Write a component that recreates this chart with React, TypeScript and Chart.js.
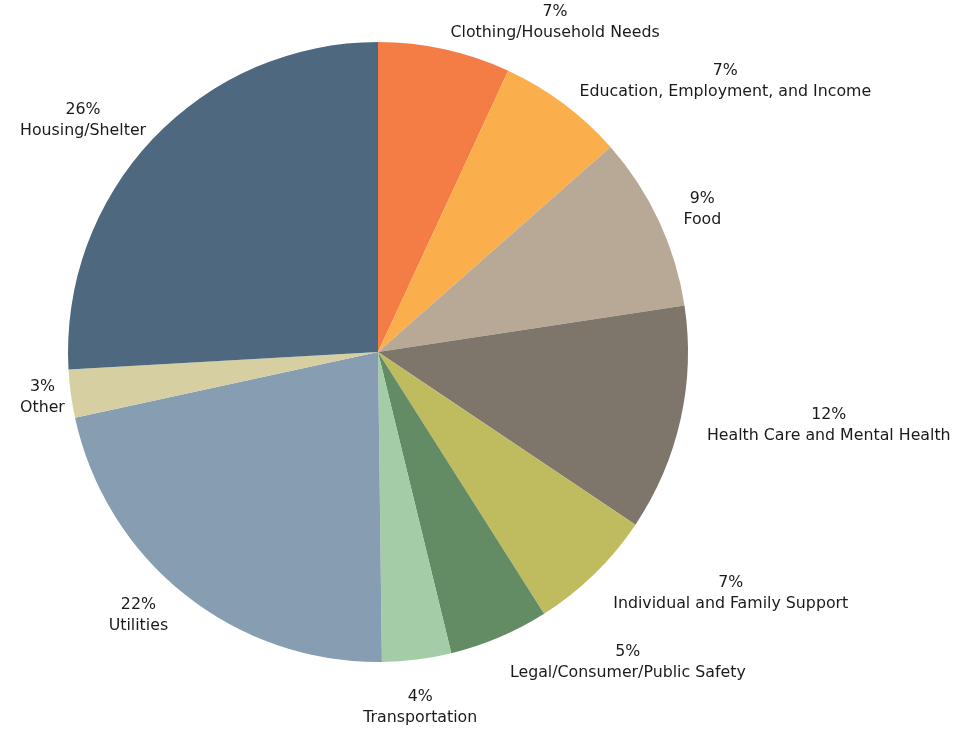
import React, { useEffect, useRef } from "react";
import { Chart, registerables } from "chart.js";

Chart.register(...registerables);

const categories = [
  "Clothing/Household Needs",
  "Education, Employment, and Income",
  "Food",
  "Health Care and Mental Health",
  "Individual and Family Support",
  "Legal/Consumer/Public Safety",
  "Transportation",
  "Utilities",
  "Other",
  "Housing/Shelter",
];
const shares = [6.9, 6.6, 9.1, 11.8, 6.6, 5.2, 3.6, 21.8, 2.5, 25.9];
const percentLabels = ["7%", "7%", "9%", "12%", "7%", "5%", "4%", "22%", "3%", "26%"];
const colors = [
  "#F47D45",
  "#FAAE4C",
  "#B8A996",
  "#7F766B",
  "#BFBB5F",
  "#638B64",
  "#A3CCA7",
  "#869DB2",
  "#D6CFA2",
  "#4E687F",
];

const FONT = "15.8px 'DejaVu Sans', sans-serif";

const labelPlugin = {
  id: "outsideLabels",
  afterDraw(chart: any) {
    const ctx = chart.ctx as CanvasRenderingContext2D;
    const meta = chart.getDatasetMeta(0);
    const W = chart.width;
    ctx.save();
    ctx.font = FONT;
    ctx.fillStyle = "#1a1a1a";
    ctx.textBaseline = "middle";
    const lineH = 21;
    meta.data.forEach((arc: any, i: number) => {
      const { x, y, startAngle, endAngle, outerRadius } = arc.getProps(
        ["x", "y", "startAngle", "endAngle", "outerRadius"],
        true
      );
      const mid = (startAngle + endAngle) / 2;
      const r = outerRadius + 27;
      const ax = x + Math.cos(mid) * r;
      const ay = y + Math.sin(mid) * r;
      const lines = [percentLabels[i], categories[i]];
      const w = Math.max(...lines.map((l) => ctx.measureText(l).width));
      const h = lineH * lines.length;
      const c = Math.cos(mid);
      const s = Math.sin(mid);
      let cx: number;
      let cy: number;
      if (Math.abs(c) < 0.15) {
        cx = ax;
        cy = s > 0 ? ay + h / 2 : ay - h / 2;
      } else {
        cx = c > 0 ? ax + w / 2 : ax - w / 2;
        cy = ay;
      }
      cx = Math.max(20 + w / 2, Math.min(W - 20 - w / 2, cx));
      ctx.textAlign = "center";
      lines.forEach((l, k) => {
        ctx.fillText(l, cx, cy - h / 2 + lineH * (k + 0.5));
      });
    });
    ctx.restore();
  },
};

export default function App() {
  const ref = useRef<HTMLCanvasElement | null>(null);
  useEffect(() => {
    if (!ref.current) return;
    const chart = new Chart(ref.current, {
      type: "pie",
      data: {
        labels: categories,
        datasets: [
          {
            data: shares,
            backgroundColor: colors,
            borderWidth: 0,
          },
        ],
      },
      options: {
        animation: false,
        responsive: true,
        maintainAspectRatio: false,
        layout: { padding: { left: 68, right: 292, top: 42, bottom: 72 } },
        plugins: {
          legend: { display: false },
          tooltip: { enabled: false },
        },
      },
      plugins: [labelPlugin],
    });
    return () => chart.destroy();
  }, []);
  return (
    <div
      style={{
        position: "fixed",
        left: 0,
        top: 0,
        width: 980,
        height: 734,
        background: "#ffffff",
      }}
    >
      <canvas ref={ref} />
    </div>
  );
}
